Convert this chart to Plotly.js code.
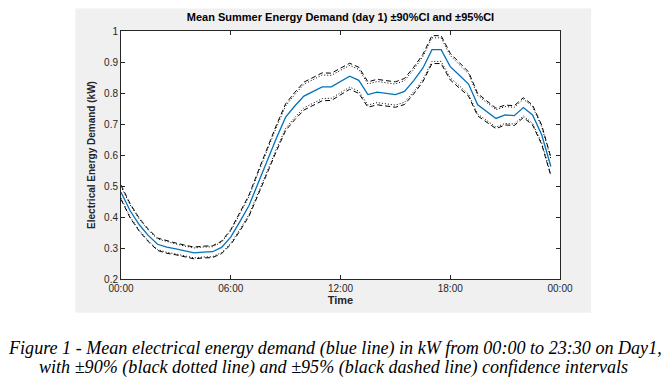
<!DOCTYPE html>
<html>
<head>
<meta charset="utf-8">
<script src="https://cdn.plot.ly/plotly-3.0.1.min.js"></script>
<style>
html,body{margin:0;padding:0;background:#fff;}
#chart{width:669px;height:386px;}
</style>
</head>
<body>
<div id="chart"></div>
<script>
// Time of day in hours (00:00 .. 23:30, half-hourly)
const hours = [0,0.5,1,1.5,2,2.5,3,3.5,4,4.5,5,5.5,6,6.5,7,7.5,8,8.5,9,9.5,10,10.5,11,11.5,
               12,12.5,13,13.5,14,14.5,15,15.5,16,16.5,17,17.5,18,18.5,19,19.5,20,20.5,21,21.5,22,22.5,23,23.5];
// Mean demand (kW)
const meanDemand = [0.48,0.42,0.375,0.34,0.312,0.303,0.297,0.29,0.284,0.287,0.288,0.302,
                    0.335,0.385,0.437,0.51,0.585,0.655,0.722,0.758,0.79,0.805,0.82,0.82,
                    0.837,0.854,0.841,0.795,0.803,0.798,0.795,0.805,0.84,0.88,0.94,0.94,
                    0.885,0.857,0.829,0.762,0.74,0.718,0.729,0.727,0.753,0.729,0.665,0.563];
// Half-widths of confidence intervals (kW)
const halfWidth95 = [0.023,0.023,0.021,0.02,0.02,0.02,0.019,0.019,0.019,0.019,0.019,0.02,
                     0.024,0.03,0.034,0.038,0.04,0.042,0.043,0.044,0.045,0.045,0.045,0.044,
                     0.043,0.042,0.042,0.041,0.041,0.041,0.041,0.042,0.043,0.044,0.045,0.045,
                     0.043,0.041,0.039,0.036,0.034,0.033,0.032,0.032,0.032,0.032,0.031,0.03];
const halfWidth90 = [0.019,0.019,0.018,0.017,0.017,0.017,0.016,0.016,0.016,0.016,0.016,0.017,
                     0.02,0.025,0.029,0.032,0.034,0.035,0.036,0.037,0.038,0.038,0.038,0.037,
                     0.036,0.035,0.035,0.034,0.034,0.034,0.034,0.035,0.036,0.037,0.038,0.038,
                     0.036,0.034,0.033,0.03,0.029,0.028,0.027,0.027,0.027,0.027,0.026,0.025];
const xTickVals = [0,6,12,18,24];
const xTickText = ['00:00','06:00','12:00','18:00','00:00'];
const yTickVals = [0.2,0.3,0.4,0.5,0.6,0.7,0.8,0.9,1];
const yTickText = ['0.2','0.3','0.4','0.5','0.6','0.7','0.8','0.9','1'];
const captionLines = [
  'Figure 1 - Mean electrical energy demand (blue line) in kW from 00:00 to 23:30 on Day1,',
  'with ±90% (black dotted line) and ±95% (black dashed line) confidence intervals'
];

const up95 = meanDemand.map((v,i)=>v+halfWidth95[i]);
const lo95 = meanDemand.map((v,i)=>v-halfWidth95[i]);
const up90 = meanDemand.map((v,i)=>v+halfWidth90[i]);
const lo90 = meanDemand.map((v,i)=>v-halfWidth90[i]);

const dashed = {color:'#000', width:1, dash:'5px,3px'};
const dotted = {color:'#000', width:1, dash:'1px,2px'};
const traces = [
  {x:hours, y:up95, mode:'lines', line:dashed, hoverinfo:'skip'},
  {x:hours, y:lo95, mode:'lines', line:dashed, hoverinfo:'skip'},
  {x:hours, y:up90, mode:'lines', line:dotted, hoverinfo:'skip'},
  {x:hours, y:lo90, mode:'lines', line:dotted, hoverinfo:'skip'},
  {x:hours, y:meanDemand, mode:'lines', line:{color:'#0072bd', width:1.3}}
];

const tickFont = {family:'Liberation Sans, Arial, sans-serif', size:10, color:'#262626'};
const captionFont = {family:'Liberation Serif, Times New Roman, serif', size:18.1, color:'#000'};
const layout = {
  width:669, height:386,
  margin:{l:121, r:109, t:31, b:107},
  paper_bgcolor:'#ffffff',
  plot_bgcolor:'#ffffff',
  showlegend:false,
  title:{text:'<b>Mean Summer Energy Demand (day 1) ±90%CI and ±95%CI</b>',
         font:{family:'Liberation Sans, Arial, sans-serif', size:11, color:'#000'},
         x:0.5, xanchor:'center', xref:'paper', y:0.955, yanchor:'middle'},
  xaxis:{range:[0,24], tickvals:xTickVals, ticktext:xTickText, ticks:'inside', ticklen:4,
         tickcolor:'#262626', showline:true, linecolor:'#262626', linewidth:1, mirror:'ticks',
         showgrid:false, zeroline:false, tickfont:tickFont,
         title:{text:'<b>Time</b>', font:{family:'Liberation Sans, Arial, sans-serif', size:11, color:'#262626'}, standoff:2}},
  yaxis:{range:[0.2,1], tickvals:yTickVals, ticktext:yTickText, ticks:'inside', ticklen:4,
         tickcolor:'#262626', showline:true, linecolor:'#262626', linewidth:1, mirror:'ticks',
         showgrid:false, zeroline:false, tickfont:tickFont,
         title:{text:'<b>Electrical Energy Demand (kW)</b>', font:{family:'Liberation Sans, Arial, sans-serif', size:10, color:'#262626'}, standoff:6}},
  shapes:[
    {type:'rect', xref:'paper', yref:'paper', x0:-0.104, x1:1.071, y0:-0.1356, y1:1.091,
     fillcolor:'#f0f0f0', line:{width:0}, layer:'below'},
    {type:'rect', xref:'paper', yref:'paper', x0:0, x1:1, y0:0, y1:1,
     fillcolor:'#ffffff', line:{width:0}, layer:'below'}
  ],
  annotations:[
    {xref:'paper', yref:'paper', x:0.4875, y:-0.2804, xanchor:'center', yanchor:'middle', showarrow:false,
     text:'<i>'+captionLines[0]+'</i>', font:captionFont},
    {xref:'paper', yref:'paper', x:0.485, y:-0.3568, xanchor:'center', yanchor:'middle', showarrow:false,
     text:'<i>'+captionLines[1]+'</i>', font:captionFont}
  ]
};
Plotly.newPlot('chart', traces, layout, {staticPlot:true, displayModeBar:false});
</script>
</body>
</html>
